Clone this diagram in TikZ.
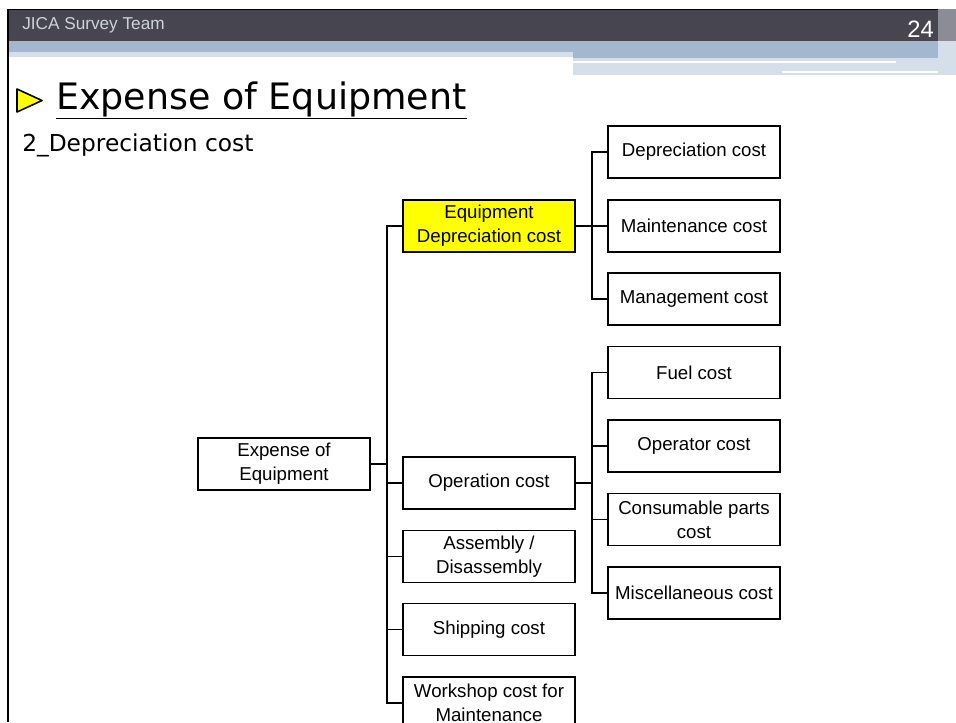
\documentclass[tikz,border=0pt]{standalone}
\usepackage{fontspec}
\setmainfont{Liberation Sans}
\newfontfamily\titlefont{DejaVu Sans}

\definecolor{barcolor}{RGB}{71,70,80}
\definecolor{bandcolor}{RGB}{163,184,206}
\definecolor{lightband}{RGB}{212,223,233}
\definecolor{stripcolor}{RGB}{140,140,150}
\definecolor{headtext}{RGB}{205,210,220}
\definecolor{hilite}{RGB}{255,255,0}

\tikzset{
  costbox/.style={draw=black, line width=1.1pt, fill=white, minimum width=129pt,
    minimum height=39pt, inner sep=1pt, align=center, font=\fontsize{14}{18}\selectfont},
  conn/.style={line width=1.1pt},
  stub/.style={line width=2.2pt}
}
\newcommand{\costbox}[5]{%
  \node[costbox, #5] (#1) at (#2,#3) {#4};
}

\begin{document}
\begin{tikzpicture}[x=0.75pt, y=-0.75pt]
    \clip (0,0) rectangle (956,722);
    \fill[white] (0,0) rectangle (956,722);
    % Header bar
    \fill[barcolor] (8,9) rectangle (938,41);
    \draw[black, line width=0.8pt] (8,9.4) -- (938,9.4);
    \fill[bandcolor] (8,41) rectangle (938,52);
    \fill[lightband] (8,52) rectangle (573,57);
    \fill[bandcolor] (573,52) rectangle (938,58);
    \fill[lightband] (573,58) rectangle (938,75);
    \fill[white] (573,61) rectangle (896,63);
    \fill[white] (782,71) rectangle (951,73);
    \fill[stripcolor] (938,9) rectangle (956,41);
    \fill[lightband] (938,41) rectangle (956,75);
    \draw[black, line width=1.8pt] (8,9) -- (8,722);
    \node[anchor=base west, inner sep=0, text=headtext, font=\fontsize{12.9}{14}\selectfont] (team) at (22,29) {JICA Survey Team};
    \node[anchor=base east, inner sep=0, text=white, font=\fontsize{17.8}{20}\selectfont] (page) at (934,37) {24};
    % Title
    \filldraw[fill=hilite, draw=black, line width=1.2pt, line join=round] (17,89) -- (42,100.5) -- (17,112) -- cycle;
    \node[anchor=base west, inner sep=0, font=\titlefont\fontsize{27.3}{30}\selectfont] (title) at (56,109) {\underline{Expense of Equipment}};
    \node[anchor=base west, inner sep=0, font=\titlefont\fontsize{17.5}{20}\selectfont] (sub) at (22,151) {2\_Depreciation cost};
    % Boxes (name, x, y, label, options)
    \costbox{root}{284}{464}{Expense of\\Equipment}{}
    \costbox{eqp}{489}{226}{Equipment\\Depreciation cost}{fill=hilite}
    \costbox{opr}{489}{483}{Operation cost}{}
    \costbox{asm}{489}{556.5}{Assembly /\\Disassembly}{}
    \costbox{shp}{489}{629.5}{Shipping cost}{}
    \costbox{wsh}{489}{703}{Workshop cost for\\Maintenance}{}
    \costbox{dep}{694}{152}{Depreciation cost}{}
    \costbox{mnt}{694}{226}{Maintenance cost}{}
    \costbox{mgt}{694}{299}{Management cost}{}
    \costbox{fuel}{694}{372.5}{Fuel cost}{}
    \costbox{opc}{694}{446}{Operator cost}{}
    \costbox{cns}{694}{519.5}{Consumable parts\\cost}{}
    \costbox{misc}{694}{593}{Miscellaneous cost}{}
    % Connectors
    \coordinate (busA) at (387,464);
    \coordinate (busB) at (592,226);
    \coordinate (busC) at (592,483);
    \foreach \n in {eqp,opr,asm,shp,wsh}
      \draw[conn] (root.east) -- (busA) |- (\n.west);
    \foreach \n in {dep,mnt,mgt}
      \draw[conn] (eqp.east) -- (busB) |- (\n.west);
    \foreach \n in {fuel,opc,cns,misc}
      \draw[conn] (opr.east) -- (busC) |- (\n.west);
    % overlapping parts
    \draw[stub] (root.east) -- (busA) -- (busA |- shp.west);
    \draw[stub] (eqp.east) -- (busB);
    \draw[stub] (opr.east) -- (busC);
    \draw[stub] (busC |- opc.west) -- (busC |- cns.west);
\end{tikzpicture}
\end{document}
